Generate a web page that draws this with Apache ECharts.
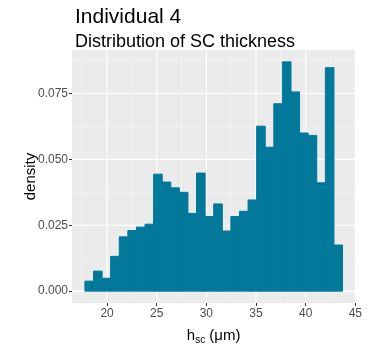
<!DOCTYPE html>
<html>
<head>
<meta charset="utf-8">
<script src="https://cdn.jsdelivr.net/npm/echarts@6/dist/echarts.min.js"></script>
<style>
  html, body { margin: 0; padding: 0; background: #fff; }
  #chart { width: 365px; height: 350px; }
</style>
</head>
<body>
<div id="chart"></div>
<script>
// histogram bins (30 bins, ggplot default)
const binStart = 17.77;
const binWidth = 0.8647;
const density = [
  0.0038, 0.0076, 0.0049, 0.0132, 0.0206, 0.0230, 0.0243, 0.0254, 0.0444, 0.0414,
  0.0392, 0.0375, 0.0295, 0.0448, 0.0283, 0.0331, 0.0228, 0.0283, 0.0303, 0.0346,
  0.0626, 0.0546, 0.0711, 0.0870, 0.0756, 0.0600, 0.0591, 0.0411, 0.0848, 0.0175
];
const xTicks = [20, 25, 30, 35, 40, 45];
const xMinor = [17.5, 22.5, 27.5, 32.5, 37.5, 42.5];
const yTicks = [0, 0.025, 0.05, 0.075];
const yMinor = [0.0125, 0.0375, 0.0625, 0.0875];

const xMin = 16.47, xMax = 45;
const yMin = -0.0045, yMax = 0.0915;

const barColor = "#02789A";
const font = "Liberation Sans";

const histData = density.map((d, i) => [binStart + i * binWidth, binStart + (i + 1) * binWidth, d]);

// grid lines: [direction (0 = vertical, 1 = horizontal), value, major?]
const gridData = [];
xMinor.forEach(v => gridData.push([0, v, 0]));
yMinor.forEach(v => gridData.push([1, v, 0]));
xTicks.forEach(v => gridData.push([0, v, 1]));
yTicks.forEach(v => gridData.push([1, v, 1]));

let myChart = echarts.init(document.getElementById("chart"));
const option = {
  animation: false,
  title: [
    {
      text: "Individual 4",
      left: 70,
      top: 2,
      textStyle: { fontFamily: font, fontSize: 21, fontWeight: "normal", color: "#000" },
    },
    {
      text: "Distribution of SC thickness",
      left: 70,
      top: 28,
      textStyle: { fontFamily: font, fontSize: 18, fontWeight: "normal", color: "#000" },
    },
  ],
  grid: {
    left: 72,
    top: 50,
    width: 290.7,
    height: 261.7,
    show: true,
    backgroundColor: "#EBEBEB",
    borderWidth: 0,
  },
  xAxis: {
    type: "value",
    min: xMin,
    max: xMax,
    name: "{a|h}{b|sc}{a| (μm)}",
    nameLocation: "middle",
    nameGap: 24,
    nameMoveOverlap: false,
    nameTextStyle: {
      rich: {
        a: { fontFamily: font, fontSize: 15, color: "#000" },
        b: { fontFamily: font, fontSize: 10, color: "#000", padding: [8, 0, 0, 0] },
      },
    },
    axisLine: { show: false, onZero: false },
    axisTick: { show: true, length: 3, customValues: xTicks, lineStyle: { color: "#333" } },
    axisLabel: {
      customValues: xTicks,
      margin: 5,
      fontFamily: font,
      fontSize: 12,
      color: "#4D4D4D",
    },
    splitLine: { show: false },
  },
  yAxis: {
    type: "value",
    min: yMin,
    max: yMax,
    name: "density",
    nameLocation: "middle",
    nameGap: 34,
    nameMoveOverlap: false,
    nameTextStyle: { fontFamily: font, fontSize: 15, color: "#000" },
    axisLine: { show: false },
    axisTick: { show: true, length: 3, customValues: yTicks, lineStyle: { color: "#333" } },
    axisLabel: {
      customValues: yTicks,
      margin: 4,
      fontFamily: font,
      fontSize: 12,
      color: "#4D4D4D",
      formatter: (v) => v.toFixed(3),
    },
    splitLine: { show: false },
  },
  series: [
    {
      // panel grid lines
      type: "custom",
      z: 1,
      silent: true,
      data: gridData,
      encode: { x: -1, y: -1 },
      renderItem: (params, api) => {
        const dir = api.value(0), v = api.value(1), major = api.value(2);
        const a = dir === 0 ? api.coord([v, yMin]) : api.coord([xMin, v]);
        const b = dir === 0 ? api.coord([v, yMax]) : api.coord([xMax, v]);
        return {
          type: "line",
          shape: { x1: a[0], y1: a[1], x2: b[0], y2: b[1] },
          style: { stroke: major ? "#FFFFFF" : "#F6F6F6", lineWidth: major ? 1.1 : 0.6 },
        };
      },
    },
    {
      type: "custom",
      z: 2,
      data: histData,
      encode: { x: [0, 1], y: 2 },
      renderItem: (params, api) => {
        const p0 = api.coord([api.value(0), api.value(2)]);
        const p1 = api.coord([api.value(1), 0]);
        return {
          type: "rect",
          shape: { x: p0[0], y: p0[1], width: p1[0] - p0[0], height: p1[1] - p0[1] },
          style: { fill: barColor, stroke: barColor, lineWidth: 1 },
        };
      },
    },
  ],
};
option && myChart.setOption(option);
</script>
</body>
</html>
